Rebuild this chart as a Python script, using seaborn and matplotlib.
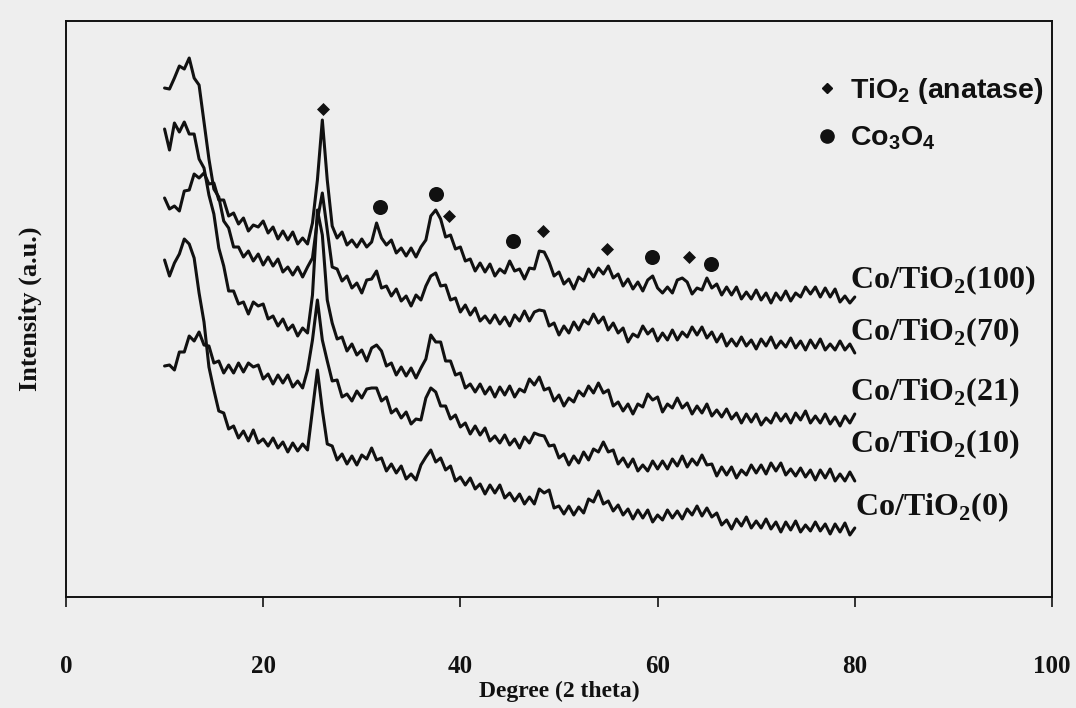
import numpy as np
import pandas as pd
import matplotlib
matplotlib.use('Agg')
import matplotlib.pyplot as plt
from matplotlib.lines import Line2D
import seaborn as sns

# XRD patterns (2 theta step 0.5 deg, intensity in a.u.)
two_theta = np.arange(10.0, 80.01, 0.5)

co_tio2_100 = [402, 391, 394, 389, 409, 410, 426, 422, 427, 416,
               417, 400, 400, 384, 387, 376, 382, 369, 375, 373,
               379, 367, 373, 361, 369, 360, 368, 356, 362, 356,
               377, 420, 480, 420, 374, 362, 368, 355, 360, 353,
               361, 353, 358, 377, 362, 355, 360, 347, 352, 344,
               352, 343, 353, 360, 384, 390, 381, 363, 365, 351,
               353, 339, 341, 329, 337, 328, 336, 324, 331, 327,
               339, 329, 331, 321, 332, 331, 349, 348, 338, 324,
               328, 316, 321, 311, 323, 319, 331, 323, 332, 326,
               334, 322, 326, 314, 321, 311, 318, 309, 320, 324,
               312, 307, 313, 307, 320, 322, 318, 306, 312, 310,
               322, 312, 316, 305, 313, 305, 313, 301, 308, 301,
               310, 300, 307, 297, 307, 300, 309, 299, 307, 303,
               313, 306, 313, 303, 312, 303, 311, 298, 304, 297,
               303]

co_tio2_70 = [512, 511, 522, 534, 531, 542, 522, 515, 478, 441,
              411, 403, 379, 372, 353, 353, 343, 349, 339, 346,
              335, 343, 334, 341, 328, 333, 325, 333, 323, 333,
              342, 380, 407, 370, 333, 331, 319, 324, 312, 317,
              307, 320, 321, 329, 312, 314, 304, 311, 299, 304,
              294, 305, 300, 314, 324, 327, 314, 315, 300, 302,
              288, 295, 285, 292, 279, 284, 277, 285, 276, 283,
              274, 285, 279, 289, 279, 288, 290, 289, 274, 277,
              265, 274, 267, 278, 270, 280, 276, 286, 277, 283,
              270, 277, 267, 272, 258, 266, 263, 274, 266, 271,
              259, 267, 260, 270, 260, 268, 263, 273, 265, 273,
              262, 268, 258, 266, 254, 261, 254, 263, 254, 260,
              251, 261, 254, 263, 252, 259, 253, 262, 252, 259,
              250, 260, 252, 261, 250, 256, 250, 259, 250, 256,
              247]

co_tio2_21 = [471, 450, 477, 468, 478, 466, 466, 441, 432, 405,
              386, 352, 334, 309, 309, 296, 298, 286, 298, 294,
              296, 281, 284, 274, 281, 270, 275, 264, 272, 267,
              305, 390, 365, 300, 277, 261, 263, 249, 256, 245,
              250, 239, 252, 255, 249, 234, 237, 225, 233, 224,
              232, 222, 232, 241, 265, 258, 258, 239, 239, 225,
              227, 212, 216, 208, 216, 206, 213, 203, 213, 205,
              214, 203, 211, 208, 221, 215, 223, 210, 212, 199,
              205, 194, 202, 198, 209, 204, 214, 207, 217, 207,
              210, 194, 198, 189, 196, 186, 196, 193, 206, 200,
              203, 188, 196, 192, 202, 192, 197, 186, 194, 187,
              196, 184, 190, 183, 191, 181, 187, 177, 186, 178,
              186, 175, 182, 177, 187, 179, 186, 177, 187, 180,
              189, 177, 184, 177, 186, 176, 183, 174, 184, 177,
              186]

co_tio2_10 = [234, 235, 230, 248, 248, 264, 259, 268, 255, 254,
              237, 239, 227, 235, 227, 237, 228, 237, 233, 235,
              221, 226, 216, 225, 217, 225, 213, 219, 212, 230,
              260, 300, 260, 239, 219, 220, 203, 206, 199, 209,
              202, 211, 212, 212, 199, 203, 187, 191, 182, 188,
              176, 181, 180, 202, 212, 208, 194, 194, 181, 185,
              173, 177, 166, 174, 165, 172, 159, 164, 157, 165,
              155, 161, 152, 163, 157, 167, 165, 164, 154, 155,
              142, 146, 135, 144, 137, 148, 140, 151, 148, 158,
              148, 150, 136, 142, 133, 141, 129, 135, 129, 139,
              131, 139, 131, 141, 134, 144, 133, 141, 135, 145,
              135, 136, 124, 133, 125, 133, 122, 130, 125, 135,
              127, 135, 126, 137, 129, 137, 125, 131, 124, 132,
              123, 130, 120, 130, 122, 131, 119, 126, 119, 128,
              119]

co_tio2_0 = [340, 324, 337, 346, 361, 356, 342, 307, 278, 233,
             210, 189, 187, 171, 174, 162, 169, 159, 170, 157,
             161, 154, 162, 152, 158, 148, 157, 149, 156, 150,
             190, 230, 190, 156, 154, 140, 146, 136, 144, 135,
             145, 141, 152, 140, 142, 129, 136, 127, 134, 121,
             126, 120, 135, 143, 150, 138, 142, 130, 134, 119,
             123, 115, 122, 111, 116, 106, 115, 107, 115, 102,
             107, 99, 106, 96, 103, 96, 111, 107, 110, 92,
             94, 86, 94, 85, 93, 87, 101, 98, 109, 96,
             99, 89, 95, 85, 91, 81, 90, 82, 90, 78,
             85, 80, 90, 82, 89, 81, 91, 85, 94, 84,
             92, 83, 87, 75, 80, 71, 81, 74, 83, 72,
             79, 72, 81, 71, 78, 68, 78, 70, 79, 68,
             75, 69, 78, 69, 76, 66, 76, 68, 77, 65,
             72]

sample_names = ['Co/TiO2(100)', 'Co/TiO2(70)', 'Co/TiO2(21)', 'Co/TiO2(10)', 'Co/TiO2(0)']
sample_labels = ['Co/TiO$_{\\mathbf{2}}$(100)', 'Co/TiO$_{\\mathbf{2}}$(70)', 'Co/TiO$_{\\mathbf{2}}$(21)',
                 'Co/TiO$_{\\mathbf{2}}$(10)', 'Co/TiO$_{\\mathbf{2}}$(0)']

# peak markers
anatase_x = [26.1, 38.8, 48.4, 54.9, 63.2]
anatase_y = [491, 384, 369, 351, 343]
co3o4_x = [31.8, 37.5, 45.3, 59.4, 65.4]
co3o4_y = [393, 406, 359, 343, 336]

x_ticks = [0, 20, 40, 60, 80, 100]

patterns = pd.DataFrame({'two_theta': two_theta,
                         sample_names[0]: co_tio2_100,
                         sample_names[1]: co_tio2_70,
                         sample_names[2]: co_tio2_21,
                         sample_names[3]: co_tio2_10,
                         sample_names[4]: co_tio2_0})

sns.set_theme(style='ticks')
plt.rcParams['font.family'] = ['Liberation Serif', 'DejaVu Serif']
plt.rcParams['mathtext.fontset'] = 'custom'
plt.rcParams['mathtext.rm'] = 'Liberation Sans:bold'
plt.rcParams['mathtext.bf'] = 'Liberation Serif:bold'

paper = '#eeeeee'
ink = '#111111'

fig, ax = plt.subplots(figsize=(10.76, 7.08), dpi=100)
fig.patch.set_facecolor(paper)
ax.set_facecolor(paper)
fig.subplots_adjust(left=0.0613, right=0.9777, bottom=0.1568, top=0.9703)

# === plot ===
for name in sample_names:
    sns.lineplot(data=patterns, x='two_theta', y=name, color=ink, lw=2.2, ax=ax)

sns.scatterplot(x=anatase_x, y=anatase_y, marker='D', s=44, color=ink, linewidth=0, ax=ax)
sns.scatterplot(x=co3o4_x, y=co3o4_y, marker='o', s=117, color=ink, linewidth=0, ax=ax)

# sample names at the right end of each trace
label_pos = [(79.5, 312), (79.5, 260), (79.5, 200), (79.5, 148), (80.0, 85)]
for lab, (tx, ty) in zip(sample_labels, label_pos):
    ax.text(tx, ty, lab, fontsize=23, fontweight='bold', ha='left', va='baseline', color=ink)

handles = [Line2D([], [], ls='none', marker='D', ms=5.2, color=ink),
           Line2D([], [], ls='none', marker='o', ms=9.5, color=ink)]
ax.legend(handles, ['TiO$_2$ (anatase)', 'Co$_3$O$_4$'], loc='upper left',
          bbox_to_anchor=(818 / 1076, 1 - 76 / 708), bbox_transform=fig.transFigure,
          frameon=False, prop={'family': 'Liberation Sans', 'size': 20.5, 'weight': 'bold'},
          labelcolor=ink, handlelength=0.6, handletextpad=0.52, borderpad=0,
          borderaxespad=0, labelspacing=0.65)

ax.set_xlim(0, 100)
ax.set_ylim(3, 579)
ax.set_xticks(x_ticks)
ax.set_xticklabels([str(t) for t in x_ticks], fontsize=18, fontweight='bold')
ax.set_yticks([])
ax.tick_params(axis='x', direction='out', length=7, width=1.2, pad=35, colors=ink)
ax.set_xlabel('Degree (2 theta)', fontsize=17, fontweight='bold', labelpad=2, color=ink)
ax.set_ylabel('Intensity (a.u.)', fontsize=19, fontweight='bold', labelpad=17, color=ink)
for s in ax.spines.values():
    s.set_color(ink)
    s.set_linewidth(1.4)

fig.savefig('out.png', dpi=100, facecolor=paper)
